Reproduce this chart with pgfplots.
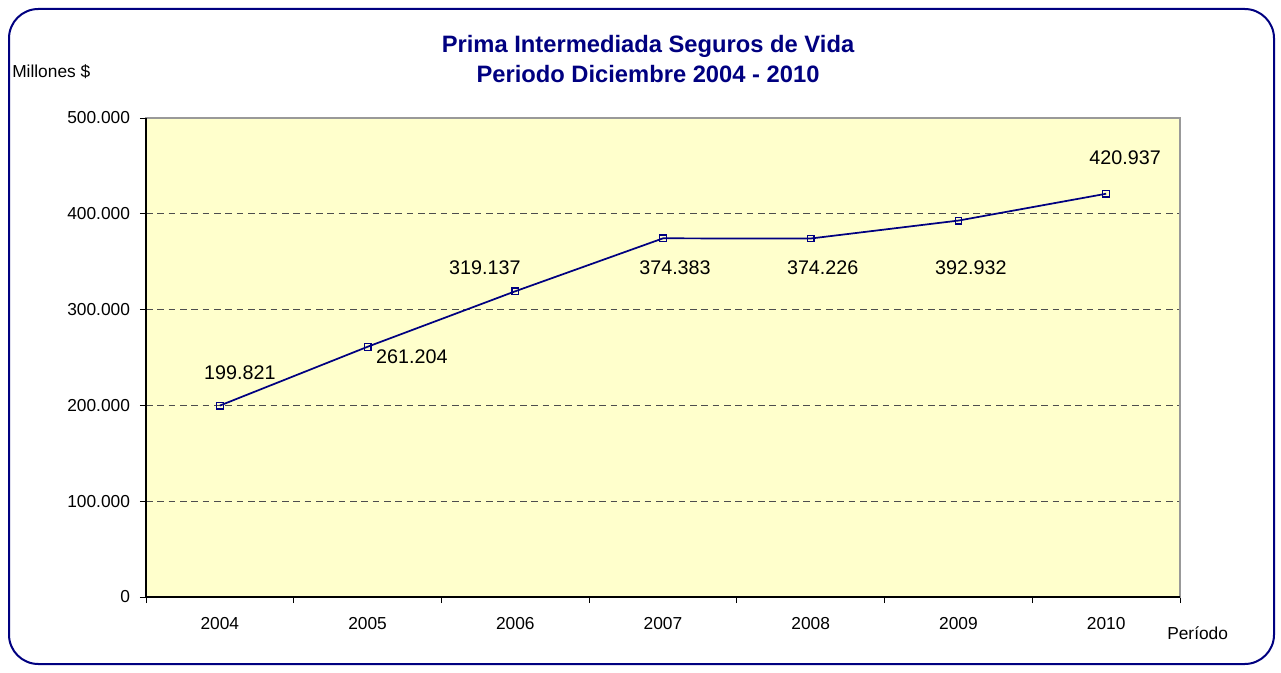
\documentclass[border=0pt]{standalone}
\usepackage{fontspec}
\setmainfont{Liberation Sans}
\usepackage{pgfplots}
\pgfplotsset{compat=1.18}
\usepackage{pgfplotstable}

\definecolor{navyline}{HTML}{000080}
\definecolor{plotbg}{HTML}{FFFFCC}
\definecolor{gridgray}{HTML}{4D4D4D}

% x: category index (2004 = 0), y: value, dx/dy: label offset in pt
\pgfplotstableread{
x  y       dx     dy
0  199821  15     24.5
1  261204  33.2   -7.6
2  319137  -22.8  17.5
3  374383  9      -22.3
4  374226  9      -22.1
5  392932  9.3    -35.5
6  420937  14.25  26.8
}\primadata

\begin{document}
\begin{tikzpicture}[font=\fontsize{13}{15.5}\selectfont]
\useasboundingbox (0,0) rectangle (960.75pt,504pt);
\draw[navyline, line width=1.5pt, rounded corners=22pt] (6.75pt,6pt) rectangle (955.5pt,497.25pt);

\begin{axis}[
  at={(109.5pt,56.25pt)}, anchor=south west,
  scale only axis, width=775.5pt, height=359.25pt,
  xmin=-0.5, xmax=6.5, ymin=0, ymax=500000,
  xtick={0,...,6},
  xticklabels={2004,2005,2006,2007,2008,2009,2010},
  minor xtick={-0.5,0.5,...,6.5},
  major x tick style={draw=none},
  xtick pos=bottom, ytick pos=left,
  tick align=outside,
  major tick length=4.5pt, minor tick length=4.5pt,
  tick style={black, line width=0.6pt},
  ytick={0,100000,...,500000},
  scaled y ticks=false,
  yticklabel style={xshift=-4pt, /pgf/number format/.cd, fixed, 1000 sep={.}},
  xticklabel style={yshift=-7pt},
  /pgf/number format/assume math mode=true,
  ymajorgrids,
  grid style={gridgray, line width=0.7pt, dash pattern=on 5pt off 3.5pt},
  axis background/.style={fill=plotbg},
  axis line style={gray!80, line width=0.8pt},
  clip=false,
]
\addplot[navyline, line width=1.3pt, mark=square, mark size=2.5pt,
  mark options={solid, line width=0.9pt},
  nodes near coords={\pgfmathprintnumber[fixed, precision=0, 1000 sep={.}]{\pgfplotspointmeta}},
  point meta=\thisrow{y},
  visualization depends on={\thisrow{dx} \as \dx},
  visualization depends on={\thisrow{dy} \as \dy},
  every node near coord/.append style={anchor=center, xshift=\dx pt, yshift=\dy pt,
    font=\fontsize{14.8}{17}\selectfont, text=black}
] table[x=x, y=y] {\primadata};
\draw[black, line width=0.8pt] (rel axis cs:0,1) -- (rel axis cs:0,0) -- (rel axis cs:1,0);
\end{axis}

\node[align=center, font=\bfseries\fontsize{17.8}{22.5}\selectfont, text=navyline]
  at (486pt,459.75pt) {Prima Intermediada Seguros de Vida\\Periodo Diciembre 2004 - 2010};
\node[anchor=west, inner sep=0pt] at (9pt,450pt) {Millones \$};
\node[anchor=west, inner sep=0pt] at (875.25pt,29.25pt) {Período};
\end{tikzpicture}
\end{document}
